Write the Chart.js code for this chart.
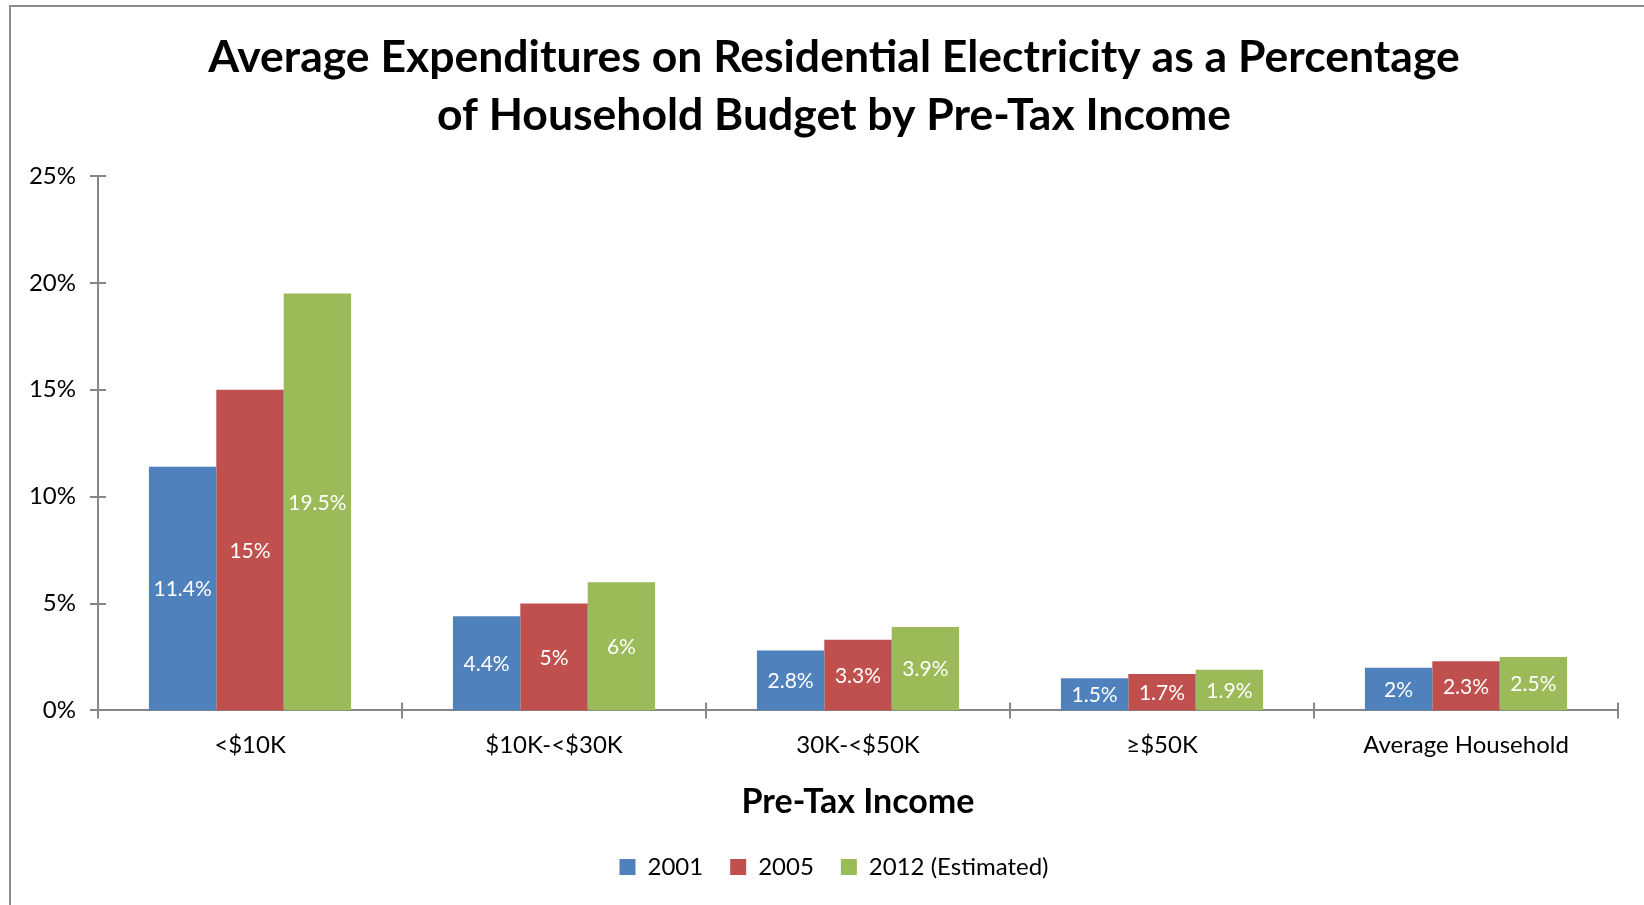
<!DOCTYPE html>
<html>
<head>
<meta charset="utf-8">
<script src="https://cdn.jsdelivr.net/npm/chart.js@4.4.0/dist/chart.umd.min.js"></script>
<style>
  html, body { margin: 0; padding: 0; background: #fff; overflow: hidden; width: 1644px; height: 905px; }
  #frame { position: absolute; left: 9px; top: 5px; width: 1700px; height: 1000px;
           border-left: 2px solid #8c8c8c; border-top: 2px solid #8c8c8c; }
  #wrap { position: absolute; left: 0; top: 0; width: 1668px; height: 905px; }
</style>
</head>
<body>
<div id="frame"></div>
<div id="wrap"><canvas id="chart" width="1668" height="905"></canvas></div>
<script>
// datos del grafico
const categories = ['<$10K', '$10K-<$30K', '30K-<$50K', '≥$50K', 'Average Household'];
const seriesNames = ['2001', '2005', '2012 (Estimated)'];
const values2001 = [11.4, 4.4, 2.8, 1.5, 2];
const values2005 = [15, 5, 3.3, 1.7, 2.3];
const values2012 = [19.5, 6, 3.9, 1.9, 2.5];
const yMin = 0, yMax = 25, yStep = 5;

const colores = ['#4f81bd', '#c0504d', '#9bbb59'];
const axisColor = '#868686';
const fontFamily = 'Lato, "Open Sans", sans-serif';

// marcas de eje que cruzan la linea (como en Excel)
const crossTicks = {
  id: 'crossTicks',
  afterDraw(chart) {
    const { ctx, chartArea, scales: { x, y } } = chart;
    ctx.save();
    ctx.strokeStyle = axisColor;
    ctx.lineWidth = 2;
    ctx.beginPath();
    y.ticks.forEach((t, i) => {
      const py = Math.round(y.getPixelForTick(i));
      ctx.moveTo(chartArea.left - 8, py);
      ctx.lineTo(chartArea.left + 8, py);
    });
    for (let i = 0; i <= categories.length; i++) {
      const px = Math.round(x.getPixelForValue(i - 0.5));
      ctx.moveTo(px, chartArea.bottom - 8);
      ctx.lineTo(px, chartArea.bottom + 8);
    }
    ctx.stroke();
    ctx.restore();
  }
};

// etiquetas de valor en el centro de cada barra
const barLabels = {
  id: 'barLabels',
  afterDatasetsDraw(chart) {
    const ctx = chart.ctx;
    ctx.save();
    ctx.fillStyle = '#ffffff';
    ctx.font = '21px ' + fontFamily;
    ctx.textAlign = 'center';
    ctx.textBaseline = 'middle';
    chart.data.datasets.forEach((ds, di) => {
      chart.getDatasetMeta(di).data.forEach((bar, i) => {
        const { x, y, base } = bar.getProps(['x', 'y', 'base'], true);
        ctx.fillText(ds.data[i] + '%', x, (y + base) / 2 + 1);
      });
    });
    ctx.restore();
  }
};

const ctx = document.getElementById('chart').getContext('2d');
new Chart(ctx, {
  type: 'bar',
  data: {
    labels: categories,
    datasets: [
      { label: seriesNames[0], data: values2001, backgroundColor: colores[0] },
      { label: seriesNames[1], data: values2005, backgroundColor: colores[1] },
      { label: seriesNames[2], data: values2012, backgroundColor: colores[2] }
    ]
  },
  options: {
    responsive: false,
    animation: false,
    devicePixelRatio: 1,
    categoryPercentage: 0.665,
    barPercentage: 1.0,
    layout: { padding: { left: 0, right: 0, top: 0, bottom: 16 } },
    plugins: {
      tooltip: { enabled: false },
      title: {
        display: true,
        text: ['Average Expenditures on Residential Electricity as a Percentage',
               'of Household Budget by Pre-Tax Income'],
        color: '#000',
        font: { family: fontFamily, size: 44.5, weight: 'bold', lineHeight: 1.303 },
        padding: { top: 29, bottom: 31 }
      },
      legend: {
        position: 'bottom',
        labels: {
          color: '#000',
          font: { family: fontFamily, size: 24 },
          boxWidth: 16,
          boxHeight: 16,
          padding: 27
        }
      }
    },
    scales: {
      x: {
        grid: { display: false },
        border: { display: true, color: axisColor, width: 2 },
        ticks: { color: '#000', font: { family: fontFamily, size: 24 }, padding: 12, maxRotation: 0 },
        title: {
          display: true,
          text: 'Pre-Tax Income',
          color: '#000',
          font: { family: fontFamily, size: 34, weight: 'bold' },
          padding: { top: 10.4, bottom: 5.6 }
        }
      },
      y: {
        min: yMin,
        max: yMax,
        grid: { display: false },
        border: { display: true, color: axisColor, width: 2 },
        ticks: {
          stepSize: yStep,
          color: '#000',
          font: { family: fontFamily, size: 24 },
          padding: 14,
          callback: v => v + '%'
        },
        afterFit(scale) { scale.width = 98; }
      },
      // eje vacio a la derecha: solo reserva espacio para centrar titulo y leyenda
      yPad: {
        position: 'right',
        grid: { display: false },
        border: { display: false },
        ticks: { display: false },
        afterFit(scale) { scale.width = 50; }
      }
    }
  },
  plugins: [crossTicks, barLabels]
});
</script>
</body>
</html>
